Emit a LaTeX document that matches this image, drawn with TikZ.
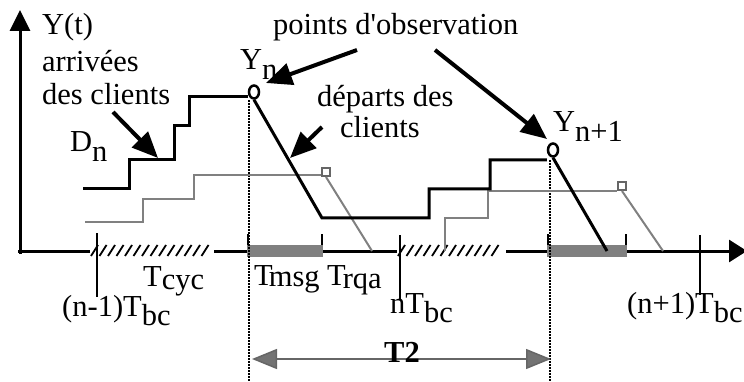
\documentclass[tikz,border=0pt]{standalone}
\usepackage{fontspec}
\setmainfont{Liberation Serif}
\usetikzlibrary{arrows.meta,shapes.geometric}
\newcommand{\lo}[1]{\raisebox{-0.32em}{#1}}
\begin{document}
\begin{tikzpicture}[x=1pt,y=-1pt,
  lbl/.style={inner sep=0pt, anchor=base west, font=\fontsize{30.5}{32}\selectfont},
  curve/.style={line width=3pt, line join=miter},
  gcurve/.style={line width=2pt, draw=black!50},
  axisline/.style={line width=3pt},
  obsline/.style={line width=2pt, dash pattern=on 1.6pt off 1.4pt},
  tickline/.style={line width=2.5pt},
  smalltick/.style={line width=2pt},
  hatchstroke/.style={line width=1.8pt},
  darkband/.style={fill=black!50},
  callout/.style={line width=4pt, -{Triangle[length=26pt,width=22pt]}},
  obsmark/.style={ellipse, draw, line width=2.5pt, minimum width=10pt, minimum height=13pt, inner sep=0pt, fill=white},
  sqmark/.style={rectangle, draw, line width=2pt, minimum size=8pt, inner sep=0pt, fill=white},
  spanarrow/.style={line width=1.5pt, draw=black!60, {Triangle[length=25pt,width=20pt,fill=black!55]}-{Triangle[length=25pt,width=20pt,fill=black!55]}}
]
\useasboundingbox (0,0) rectangle (744,382);

% axes
\coordinate (yb) at (20,254);
\coordinate (yt) at (20,10);
\coordinate (xl) at (18,251);
\coordinate (xr) at (747,251);
\draw[axisline, -{Triangle[length=21pt,width=20pt]}] (yb) -- (yt);
\draw[axisline, -{Triangle[length=18pt,width=22pt]}] (xl) -- (xr);

% hatched regions (T_cyc)
\fill[white] (90,242) rectangle (214,259);
\foreach \x in {91,99.5,...,206} \draw[hatchstroke] (\x,256) -- (\x+7,245);
\fill[white] (397,242) rectangle (506,259);
\foreach \x in {398,406.5,...,499} \draw[hatchstroke] (\x,256) -- (\x+7,245);

% dark bands (T_msg, T_rqa)
\fill[darkband] (247,245) rectangle (323,257);
\fill[darkband] (547,245) rectangle (627,257);
\draw[smalltick] (248,234) -- (248,245);
\draw[smalltick] (322,234) -- (322,245);
\draw[smalltick] (548,234) -- (548,245);
\draw[smalltick] (626,234) -- (626,245);

% ticks
\draw[tickline] (97,233) -- (97,297);
\draw[tickline] (400,235) -- (400,300);
\draw[tickline] (700,235) -- (700,295);

% observation lines
\coordinate (o1t) at (249,100);
\coordinate (o1b) at (249,382);
\coordinate (o2t) at (550,160);
\coordinate (o2b) at (550,382);
\draw[obsline] (o1t) -- (o1b);
\draw[obsline] (o2t) -- (o2b);

% grey curves
\node[sqmark, draw=black!60] (s1) at (326,172) {};
\node[sqmark, draw=black!60] (s2) at (622,186) {};
\draw[gcurve] (85,222) -| (143,199) -| (194,175) -- (s1.west |- 0,175);
\draw[gcurve] (s1.south) -- (372,251);
\draw[gcurve] (445,251) -- (445,218) -| (488,191) -- (s2.west |- 0,191);
\draw[gcurve] (s2.south) -- (663,251);

% black curves
\node[obsmark] (c1) at (254,92) {};
\node[obsmark] (c2) at (553,150) {};
\draw[curve] (83,189) -| (129,160) -| (174,126) -| (189,97) -- (c1.west |- 0,97);
\draw[curve] (c1.south) -- (322,218) -| (429,189) -| (490,160) -- (c2.west |- 0,160);
\draw[curve] (c2.south) -- (607,251);

% labels
\node[lbl] (ylab) at (42,35) {Y(t)};
\node[lbl] (arr1) at (42,72) {arrivées};
\node[lbl] (arr2) at (42,105) {des clients};
\node[lbl] (dn) at (70,152) {D\lo{n}};
\node[lbl] (yn) at (240,70) {Y\lo{n}};
\node[lbl] (pobs) at (273,35) {points d\textquotesingle observation};
\node[lbl] (dep1) at (317,107) {départs des};
\node[lbl] (dep2) at (340,138) {clients};
\node[lbl] (yn1) at (553,132) {Y\lo{n+1}};
\node[lbl] (tcyc) at (143,286) {T\raisebox{-0.12em}{cyc}};
\node[lbl] (tmsg) at (254,285) {T\kern-4pt\raisebox{-0.05em}{msg}};
\node[lbl] (trqa) at (327,285) {T\kern-3pt\raisebox{-0.1em}{rqa}};
\node[lbl] (tbc1) at (62,316) {(n-1)T\lo{bc}};
\node[lbl] (ntbc) at (390,313) {nT\lo{bc}};
\node[lbl] (tbc2) at (627,313) {(n+1)T\lo{bc}};

% callout arrows
\coordinate (a1s) at (113,112);
\coordinate (a1e) at (158,158);
\coordinate (a2s) at (357,50);
\coordinate (a2e) at (266,83);
\coordinate (a3s) at (435,50);
\coordinate (a3e) at (547,139);
\coordinate (a4s) at (322,127);
\coordinate (a4e) at (290,158);
\draw[callout] (a1s) -- (a1e);
\draw[callout] (a2s) -- (a2e);
\draw[callout] (a3s) -- (a3e);
\draw[callout] (a4s) -- (a4e);

% T2 span
\coordinate (t2l) at (252,359);
\coordinate (t2r) at (551,359);
\draw[spanarrow] (t2l) -- (t2r);
\node[lbl, anchor=base, font=\fontsize{30.5}{32}\selectfont\bfseries] (t2) at (402,362) {T2};
\end{tikzpicture}
\end{document}
